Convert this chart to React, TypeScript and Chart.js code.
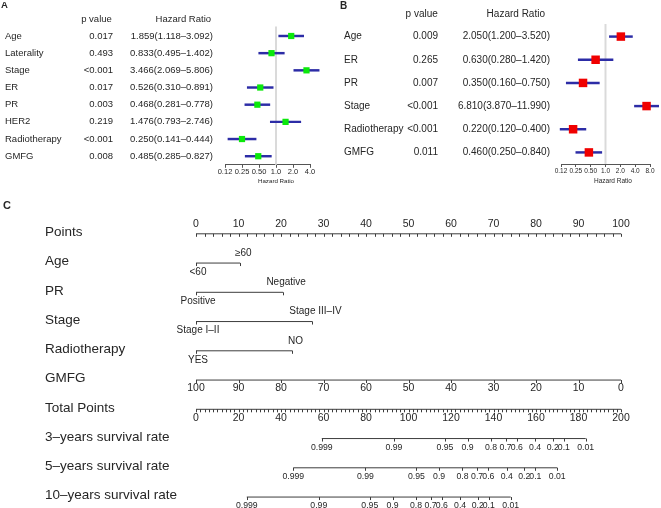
import React, { useEffect, useRef } from "react";
import { Chart, registerables } from "chart.js";
Chart.register(...registerables);

const FONT = '"Liberation Sans", Arial, Helvetica, sans-serif';
const TEXT = "#262626";
const LINE = "#3c3c3c";

// ---------- Panel A (univariate) ----------
const aVariables = ["Age", "Laterality", "Stage", "ER", "PR", "HER2", "Radiotherapy", "GMFG"];
const aPValues = ["0.017", "0.493", "<0.001", "0.017", "0.003", "0.219", "<0.001", "0.008"];
const aHR = [1.859, 0.833, 3.466, 0.526, 0.468, 1.476, 0.25, 0.485];
const aLower = [1.118, 0.495, 2.069, 0.31, 0.281, 0.793, 0.141, 0.285];
const aUpper = [3.092, 1.402, 5.806, 0.891, 0.778, 2.746, 0.444, 0.827];
const aTicks = [0.125, 0.25, 0.5, 1, 2, 4];
const aTickLabels = ["0.12", "0.25", "0.50", "1.0", "2.0", "4.0"];

// ---------- Panel B (multivariate) ----------
const bVariables = ["Age", "ER", "PR", "Stage", "Radiotherapy", "GMFG"];
const bPValues = ["0.009", "0.265", "0.007", "<0.001", "<0.001", "0.011"];
const bHR = [2.05, 0.63, 0.35, 6.81, 0.22, 0.46];
const bLower = [1.2, 0.28, 0.16, 3.87, 0.12, 0.25];
const bUpper = [3.52, 1.42, 0.75, 11.99, 0.4, 0.84];
const bTicks = [0.125, 0.25, 0.5, 1, 2, 4, 8];
const bTickLabels = ["0.12", "0.25", "0.50", "1.0", "2.0", "4.0", "8.0"];

// ---------- Panel C (nomogram) ----------
const rowNames = [
  "Points",
  "Age",
  "PR",
  "Stage",
  "Radiotherapy",
  "GMFG",
  "Total Points",
  "3–years survival rate",
  "5–years survival rate",
  "10–years survival rate",
];
const pointsTicks = [0, 10, 20, 30, 40, 50, 60, 70, 80, 90, 100];
const ageLevels = ["<60", "≥60"];
const agePoints = [0, 10.4];
const prLevels = ["Positive", "Negative"];
const prPoints = [0, 20.5];
const stageLevels = ["Stage I–II", "Stage III–IV"];
const stagePoints = [0, 27.4];
const radioLevels = ["YES", "NO"];
const radioPoints = [0, 22.7];
const gmfgValues = [100, 90, 80, 70, 60, 50, 40, 30, 20, 10, 0];
const totalTicks = [0, 20, 40, 60, 80, 100, 120, 140, 160, 180, 200];
const survivalLabels = ["0.999", "0.99", "0.95", "0.9", "0.8", "0.7", "0.6", "0.4", "0.2", "0.1", "0.01"];
const surv3Total = [59.2, 93.1, 117.1, 127.8, 138.8, 145.7, 151.0, 159.6, 167.9, 173.1, 183.4];
const surv5Total = [45.8, 79.7, 103.7, 114.4, 125.4, 132.3, 137.6, 146.2, 154.5, 159.7, 170.0];
const surv10Total = [23.9, 57.8, 81.8, 92.5, 103.5, 110.4, 115.7, 124.3, 132.6, 137.8, 148.1];

type ForestOpts = {
  names: string[];
  pvals: string[];
  hr: number[];
  lo: number[];
  hi: number[];
  ticks: number[];
  tickLabels: string[];
  color: string;
  radius: number;
  pad: { left: number; right: number; top: number };
  axisH: number;
  tickFont: number;
  titleFont: number;
  titleX: number;
  titleY: number;
  textFont: number;
  nameX: number;
  pX: number;
  hrX: number;
  headY: number;
  pHeadX: number;
  hrHeadX: number;
  letter: string;
  letterX: number;
  letterY: number;
  letterFont: number;
};

function forestConfig(o: ForestOpts): any {
  const fmt = (v: number) => v.toFixed(3);
  const plugin = {
    id: "forestText" + o.letter,
    beforeDatasetsDraw(chart: any) {
      const { ctx, chartArea } = chart;
      const px = chart.scales.x.getPixelForValue(1);
      ctx.save();
      ctx.strokeStyle = "#dadada";
      ctx.lineWidth = 2;
      ctx.beginPath();
      ctx.moveTo(px, chartArea.top - 1);
      ctx.lineTo(px, chartArea.bottom);
      ctx.stroke();
      ctx.restore();
    },
    afterDraw(chart: any) {
      const { ctx } = chart;
      const ys = chart.scales.y;
      ctx.save();
      ctx.fillStyle = TEXT;
      ctx.textBaseline = "middle";
      ctx.font = `bold ${o.letterFont}px ${FONT}`;
      ctx.textAlign = "left";
      ctx.fillText(o.letter, o.letterX, o.letterY);
      ctx.font = `${o.textFont}px ${FONT}`;
      ctx.textAlign = "center";
      ctx.fillText("p value", o.pHeadX, o.headY);
      ctx.fillText("Hazard Ratio", o.hrHeadX, o.headY);
      o.names.forEach((n, i) => {
        const py = ys.getPixelForValue(i);
        ctx.textAlign = "left";
        ctx.fillText(n, o.nameX, py);
        ctx.textAlign = "right";
        ctx.fillText(o.pvals[i], o.pX, py);
        ctx.fillText(`${fmt(o.hr[i])}(${fmt(o.lo[i])}–${fmt(o.hi[i])})`, o.hrX, py);
      });
      ctx.font = `${o.titleFont}px ${FONT}`;
      ctx.textAlign = "center";
      ctx.fillText("Hazard Ratio", o.titleX, o.titleY);
      ctx.restore();
    },
  };
  return {
    type: "bar",
    data: {
      labels: o.names,
      datasets: [
        {
          type: "bar",
          data: o.names.map((_, i) => [o.lo[i], o.hi[i]]),
          backgroundColor: "#2c2ca6",
          borderWidth: 0,
          barThickness: 1.8,
          clip: false,
          order: 2,
        },
        {
          type: "scatter",
          data: o.names.map((n, i) => ({ x: o.hr[i], y: n })),
          pointStyle: "rect",
          pointRadius: o.radius,
          pointHoverRadius: o.radius,
          backgroundColor: o.color,
          borderWidth: 0,
          clip: false,
          order: 1,
        },
      ],
    },
    options: {
      indexAxis: "y",
      animation: false,
      responsive: false,
      events: [],
      layout: { padding: { left: o.pad.left, right: o.pad.right, top: o.pad.top, bottom: 0 } },
      plugins: { legend: { display: false }, tooltip: { enabled: false } },
      scales: {
        x: {
          type: "logarithmic",
          position: "bottom",
          min: o.ticks[0],
          max: o.ticks[o.ticks.length - 1],
          bounds: "data",
          afterBuildTicks: (s: any) => {
            s.ticks = o.ticks.map((v) => ({ value: v }));
          },
          afterFit: (s: any) => {
            s.height = o.axisH;
          },
          ticks: {
            autoSkip: false,
            maxRotation: 0,
            padding: 0,
            color: TEXT,
            font: { family: FONT, size: o.tickFont },
            callback: (v: any) => {
              const idx = o.ticks.findIndex((t) => Math.abs(t - Number(v)) < 1e-9);
              return idx >= 0 ? o.tickLabels[idx] : "";
            },
          },
          grid: { display: true, drawOnChartArea: false, drawTicks: true, tickLength: 3, color: "#555" },
          border: { display: true, color: "#555", width: 1 },
        },
        y: { type: "category", display: false, offset: true },
      },
    },
    plugins: [plugin],
  };
}

function nomogramConfig(): any {
  const seg = (x0: number, x1: number, row: number, axis = "x") => ({
    type: "scatter",
    showLine: true,
    xAxisID: axis,
    data: [
      { x: x0, y: row },
      { x: x1, y: row },
    ],
    borderColor: LINE,
    borderWidth: 1,
    pointRadius: 0,
    pointHoverRadius: 0,
    clip: false,
  });
  const catRows = [
    { row: 1, levels: ageLevels, pts: agePoints },
    { row: 2, levels: prLevels, pts: prPoints },
    { row: 3, levels: stageLevels, pts: stagePoints },
    { row: 4, levels: radioLevels, pts: radioPoints },
  ];
  const survRows = [
    { row: 7, pos: surv3Total },
    { row: 8, pos: surv5Total },
    { row: 9, pos: surv10Total },
  ];
  const datasets: any[] = [seg(pointsTicks[0], pointsTicks[pointsTicks.length - 1], 0)];
  catRows.forEach((c) => datasets.push(seg(c.pts[0], c.pts[1], c.row)));
  datasets.push(seg(gmfgValues[0], gmfgValues[gmfgValues.length - 1], 5, "xg"));
  datasets.push(seg(totalTicks[0], totalTicks[totalTicks.length - 1], 6, "xt"));
  survRows.forEach((s) => datasets.push(seg(s.pos[0], s.pos[s.pos.length - 1], s.row, "xt")));

  const plugin = {
    id: "nomogram",
    afterDatasetsDraw(chart: any) {
      const { ctx } = chart;
      const sx = chart.scales.x;
      const sg = chart.scales.xg;
      const st = chart.scales.xt;
      const sy = chart.scales.y;
      const rowY = (i: number) => sy.getPixelForValue(i);
      const tick = (px: number, py: number, len = 3) => {
        const x = Math.round(px) + 0.5;
        ctx.beginPath();
        ctx.moveTo(x, py);
        ctx.lineTo(x, py + len);
        ctx.stroke();
      };
      const label = (t: string, px: number, py: number, size: number) => {
        ctx.font = `${size}px ${FONT}`;
        ctx.textAlign = "center";
        ctx.fillText(t, px, py);
      };
      ctx.save();
      ctx.strokeStyle = LINE;
      ctx.lineWidth = 1;
      ctx.fillStyle = TEXT;
      ctx.textBaseline = "middle";

      ctx.font = `bold 11px ${FONT}`;
      ctx.textAlign = "left";
      ctx.fillText("C", 3, 10);

      ctx.font = `13.5px ${FONT}`;
      rowNames.forEach((n, i) => {
        ctx.textAlign = "left";
        ctx.fillText(n, 45, rowY(i) - 1.5);
      });

      // Points axis
      const y0 = rowY(0);
      for (let v = pointsTicks[0]; v <= pointsTicks[pointsTicks.length - 1]; v += 2) tick(sx.getPixelForValue(v), y0);
      pointsTicks.forEach((v) => label(String(v), sx.getPixelForValue(v), y0 - 10, 10.5));

      // categorical predictors
      catRows.forEach((c) => {
        const y = rowY(c.row);
        c.pts.forEach((p) => tick(sx.getPixelForValue(p), y));
        label(c.levels[0], sx.getPixelForValue(c.pts[0]) + 2, y + 9, 10);
        label(c.levels[1], sx.getPixelForValue(c.pts[1]) + 3, y - 10, 10);
      });

      // GMFG
      const yg = rowY(5);
      gmfgValues.forEach((v) => {
        tick(sg.getPixelForValue(v), yg);
        label(String(v), sg.getPixelForValue(v), yg + 8, 10.5);
      });

      // Total points
      const yt = rowY(6);
      for (let v = totalTicks[0]; v <= totalTicks[totalTicks.length - 1]; v += 2) tick(st.getPixelForValue(v), yt);
      totalTicks.forEach((v) => label(String(v), st.getPixelForValue(v), yt + 8.5, 10.5));

      // survival axes
      survRows.forEach((s) => {
        const y = rowY(s.row);
        s.pos.forEach((p, i) => {
          tick(st.getPixelForValue(p), y);
          label(survivalLabels[i], st.getPixelForValue(p), y + 9, 8.7);
        });
      });
      ctx.restore();
    },
  };

  return {
    type: "scatter",
    data: { datasets },
    options: {
      animation: false,
      responsive: false,
      events: [],
      layout: { padding: { left: 196, right: 40, top: 37.8, bottom: 10.95 } },
      plugins: { legend: { display: false }, tooltip: { enabled: false } },
      scales: {
        x: { type: "linear", min: 0, max: 100, display: false },
        xg: { type: "linear", axis: "x", min: 0, max: 100, reverse: true, display: false },
        xt: { type: "linear", axis: "x", min: 0, max: 200, display: false },
        y: { type: "linear", min: 0, max: 9, reverse: true, display: false },
      },
    },
    plugins: [plugin],
  };
}

export default function App() {
  const aRef = useRef<HTMLCanvasElement>(null);
  const bRef = useRef<HTMLCanvasElement>(null);
  const cRef = useRef<HTMLCanvasElement>(null);

  useEffect(() => {
    const charts: Chart[] = [];
    charts.push(
      new Chart(
        aRef.current!,
        forestConfig({
          names: aVariables,
          pvals: aPValues,
          hr: aHR,
          lo: aLower,
          hi: aUpper,
          ticks: aTicks,
          tickLabels: aTickLabels,
          color: "#0be80b",
          radius: 4.4,
          pad: { left: 225, right: 20, top: 27.4 },
          axisH: 30.2,
          tickFont: 7.5,
          titleFont: 6.2,
          titleX: 276,
          titleY: 181,
          textFont: 9.5,
          nameX: 5,
          pX: 113,
          hrX: 213,
          headY: 19,
          pHeadX: 96.5,
          hrHeadX: 183.3,
          letter: "A",
          letterX: 1,
          letterY: 5,
          letterFont: 9.5,
        })
      )
    );
    charts.push(
      new Chart(
        bRef.current!,
        forestConfig({
          names: bVariables,
          pvals: bPValues,
          hr: bHR,
          lo: bLower,
          hi: bUpper,
          ticks: bTicks,
          tickLabels: bTickLabels,
          color: "#f00000",
          radius: 6,
          pad: { left: 231, right: 11, top: 25 },
          axisH: 31,
          tickFont: 6.5,
          titleFont: 6.5,
          titleX: 283,
          titleY: 181.5,
          textFont: 10,
          nameX: 14,
          pX: 108,
          hrX: 220,
          headY: 14,
          pHeadX: 91.7,
          hrHeadX: 185.8,
          letter: "B",
          letterX: 10,
          letterY: 6,
          letterFont: 10,
        })
      )
    );
    charts.push(new Chart(cRef.current!, nomogramConfig()));
    return () => charts.forEach((c) => c.destroy());
  }, []);

  return (
    <div
      style={{
        position: "absolute",
        left: 0,
        top: 0,
        width: 661,
        height: 508,
        background: "#ffffff",
        overflow: "hidden",
      }}
    >
      <canvas ref={aRef} width={330} height={195} style={{ position: "absolute", left: 0, top: 0 }} />
      <canvas ref={bRef} width={331} height={195} style={{ position: "absolute", left: 330, top: 0 }} />
      <canvas ref={cRef} width={661} height={312} style={{ position: "absolute", left: 0, top: 196 }} />
    </div>
  );
}
